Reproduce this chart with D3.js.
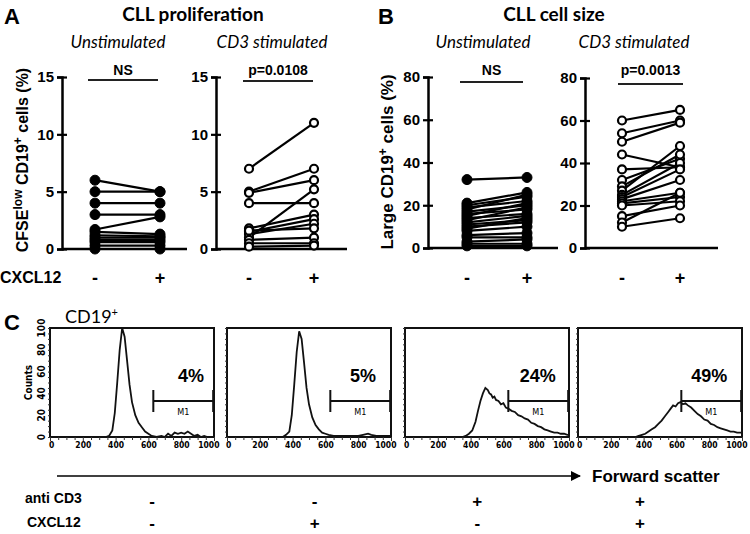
<!DOCTYPE html>
<html><head><meta charset="utf-8">
<script src="https://cdn.jsdelivr.net/npm/d3@7"></script>
<style>
body{margin:0;background:#fff;}
svg{display:block;}
text{fill:#000;}
</style></head>
<body>
<svg id="chart" width="750" height="534"></svg>
<script>
// ---------------- DATA ----------------
const categories = ["-", "+"];
// Panel A: CFSE low CD19+ cells (%), pairs [-CXCL12, +CXCL12]
const aUnstim = [[6,5],[5,5],[4,4],[3,3],[1.7,2.8],[1.5,1.3],[1.2,1.1],[1.0,1.0],[0.8,0.8],[0.6,0.6],[0.3,0.3],[0,0]];
const aCD3 = [[7,11],[5,7],[4.9,6],[4,4],[1,5.2],[1.8,3],[1.5,2.6],[1.3,2.2],[1.6,1.8],[0.8,1],[0.5,0.5],[0.2,0.3]];
// Panel B: Large CD19+ cells (%)
const bUnstim = [[32,33],[21,26],[20,24],[19,22],[18,25],[17,20],[16,18],[15,21],[14,16],[13,19],[12,15],[11,13],[10,12],[9,14],[8,10],[6,7],[5,5],[3,4],[2,2],[1,1]];
const bCD3 = [[60,65],[54,60],[50,59],[44,38],[37,38],[32,42],[29,44],[27,48],[25,40],[24,37],[23,32],[22,26],[21,24],[20,22],[15,20],[12,26],[10,14]];
const aTicks = [0,5,10,15];
const bTicks = [0,20,40,60,80];
const pLabels = ["NS","p=0.0108","NS","p=0.0013"];
// Panel C: FSC histograms [channel, counts]
const fscTicks = [0,200,400,600,800,1000];
const countTicks = [0,20,40,60,80,100];
const hist1 = [[0,0],[340,0],[360,1],[380,6],[395,22],[410,50],[425,80],[440,100],[455,92],[470,70],[485,48],[500,32],[520,20],[540,13],[560,9],[580,5],[600,3],[620,1],[650,0],[680,1],[700,0],[720,3],[740,1],[760,4],[780,3],[800,4],[820,3],[840,5],[860,3],[880,1],[900,2],[920,0],[940,1],[960,0],[1000,0]];
const hist2 = [[0,0],[340,0],[360,2],[380,5],[395,20],[410,48],[425,78],[440,97],[455,90],[470,68],[485,45],[500,30],[520,18],[540,11],[560,7],[580,4],[600,3],[620,2],[650,1],[700,1],[750,1],[800,1],[830,2],[860,3],[880,2],[910,1],[950,1],[1000,1]];
const hist3 = [[0,0],[350,0],[370,1],[390,3],[410,6],[430,14],[445,24],[460,33],[475,40],[490,45],[505,43],[515,40],[525,39],[535,36],[545,37],[555,34],[570,33],[585,30],[600,31],[615,27],[630,26],[650,24],[670,23],[690,20],[710,19],[730,17],[750,16],[770,13],[790,12],[810,10],[830,9],[850,7],[870,6],[890,5],[910,4],[930,4],[950,3],[970,3],[990,2],[1000,2]];
const hist4 = [[0,0],[350,0],[370,1],[390,2],[410,3],[430,5],[450,7],[470,9],[490,12],[510,15],[530,19],[550,23],[565,26],[580,29],[595,28],[610,31],[625,32],[640,30],[655,31],[670,29],[690,27],[710,24],[730,21],[750,19],[770,16],[790,15],[810,12],[830,11],[850,9],[870,8],[890,7],[910,6],[930,5],[950,5],[970,4],[990,4],[1000,4]];
const histograms = [hist1, hist2, hist3, hist4];
const pctLabels = ["4%","5%","24%","49%"];
const markerRange = [630, 995];
const antiCD3Row = ["-","-","+","+"];
const cxcl12Row = ["-","+","-","+"];

// ---------------- DRAW ----------------
const svg = d3.select("#chart");
const ARIAL = "Liberation Sans, Arial, sans-serif";
const LATO = "Lato, sans-serif";

[["A",4,24],["B",378,24],["C",4,330]].forEach(([t,x,y]) =>
  svg.append("text").attr("x",x).attr("y",y).attr("font-family",ARIAL)
    .attr("font-weight","bold").attr("font-size",22).text(t));

svg.append("text").attr("x",193).attr("y",21).attr("text-anchor","middle")
  .attr("font-family",LATO).attr("font-weight","bold").attr("font-size",19).text("CLL proliferation");
svg.append("text").attr("x",554).attr("y",21).attr("text-anchor","middle")
  .attr("font-family",LATO).attr("font-weight","bold").attr("font-size",19).text("CLL cell size");

function scatterPanel(cfg){
  const g = svg.append("g");
  const y = d3.scaleLinear().domain([0, cfg.max]).range([cfg.yBottom, cfg.yTop]);
  const x = d3.scalePoint().domain(categories).range([cfg.xm, cfg.xp]);
  g.append("text").attr("x",cfg.subX).attr("y",48).attr("text-anchor","middle")
    .attr("font-family",LATO).attr("font-style","italic").attr("font-size",17).text(cfg.sub);
  const ax = d3.axisLeft(y).tickValues(cfg.ticks).tickSize(5).tickPadding(3);
  const ag = g.append("g").attr("transform",`translate(${cfg.axisX},0)`).call(ax);
  ag.select(".domain").attr("stroke","#000").attr("stroke-width",2.5);
  ag.selectAll(".tick line").attr("x1",-5).attr("x2",5).attr("stroke","#000").attr("stroke-width",2.2);
  ag.selectAll(".tick text").attr("font-family",ARIAL).attr("font-weight","bold").attr("font-size",15).attr("fill","#000");
  g.append("line").attr("x1",cfg.axisX).attr("x2",cfg.xEnd).attr("y1",y(0)).attr("y2",y(0))
    .attr("stroke","#000").attr("stroke-width",2.5);
  categories.forEach(c => g.append("text").attr("x",x(c)).attr("y",284).attr("text-anchor","middle")
    .attr("font-family",ARIAL).attr("font-weight","bold").attr("font-size",18).text(c));
  g.append("text").attr("x",(cfg.sigX1+cfg.sigX2)/2).attr("y",75).attr("text-anchor","middle")
    .attr("font-family",ARIAL).attr("font-weight","bold").attr("font-size",14).text(cfg.sig);
  g.append("line").attr("x1",cfg.sigX1).attr("x2",cfg.sigX2).attr("y1",cfg.sigY).attr("y2",cfg.sigY)
    .attr("stroke","#222").attr("stroke-width",2);
  g.selectAll("line.pair").data(cfg.data).enter().append("line").attr("class","pair")
    .attr("x1",x("-")).attr("x2",x("+")).attr("y1",d=>y(d[0])).attr("y2",d=>y(d[1]))
    .attr("stroke","#000").attr("stroke-width",2.2);
  const pts = [];
  cfg.data.forEach(d => { pts.push(["-",d[0]]); pts.push(["+",d[1]]); });
  g.selectAll("circle.pt").data(pts).enter().append("circle").attr("class","pt")
    .attr("cx",d=>x(d[0])).attr("cy",d=>y(d[1]))
    .attr("r", cfg.filled ? 5 : 4)
    .attr("fill", cfg.filled ? "#000" : "#fff")
    .attr("stroke","#000").attr("stroke-width", cfg.filled ? 1 : 2.2);
}

scatterPanel({data:aUnstim, max:15, ticks:aTicks, yTop:77, yBottom:249, axisX:62, xm:95, xp:160, xEnd:187,
  sub:"Unstimulated", subX:118, sig:pLabels[0], sigX1:88, sigX2:158, sigY:80, filled:true});
scatterPanel({data:aCD3, max:15, ticks:aTicks, yTop:77, yBottom:249, axisX:216, xm:249, xp:314, xEnd:347,
  sub:"CD3 stimulated", subX:272, sig:pLabels[1], sigX1:243, sigX2:313, sigY:81, filled:false});
scatterPanel({data:bUnstim, max:80, ticks:bTicks, yTop:77, yBottom:248, axisX:428, xm:467, xp:527, xEnd:558,
  sub:"Unstimulated", subX:483, sig:pLabels[2], sigX1:460, sigX2:523, sigY:82, filled:true});
scatterPanel({data:bCD3, max:80, ticks:bTicks, yTop:78, yBottom:248, axisX:585, xm:622, xp:680, xEnd:718,
  sub:"CD3 stimulated", subX:634, sig:pLabels[3], sigX1:618, sigX2:683, sigY:84, filled:false});

const ya = svg.append("text").attr("transform","translate(28,160) rotate(-90)").attr("text-anchor","middle")
  .attr("font-family",ARIAL).attr("font-weight","bold").attr("font-size",16);
ya.append("tspan").text("CFSE");
ya.append("tspan").attr("font-size",12).attr("dy",-6).text("low");
ya.append("tspan").attr("dy",6).text(" CD19");
ya.append("tspan").attr("font-size",12).attr("dy",-6).text("+");
ya.append("tspan").attr("dy",6).text(" cells (%)");
const yb = svg.append("text").attr("transform","translate(393,162) rotate(-90)").attr("text-anchor","middle")
  .attr("font-family",ARIAL).attr("font-weight","bold").attr("font-size",17);
yb.append("tspan").text("Large CD19");
yb.append("tspan").attr("font-size",12).attr("dy",-6).text("+");
yb.append("tspan").attr("dy",6).text(" cells (%)");

svg.append("text").attr("x",0).attr("y",283).attr("font-family",ARIAL).attr("font-weight","bold")
  .attr("font-size",16).text("CXCL12");

// ---------------- Panel C ----------------
const boxLefts = [50, 227, 405, 578];
const pctX = [860, 830, 810, 800];
const boxW = 164, boxTop = 328, boxBottom = 437;
const COND = "DejaVu Sans Condensed, Liberation Sans Narrow, sans-serif";
const cy = d3.scaleLinear().domain([0,100]).range([boxBottom, boxTop]);

svg.append("text").attr("x",65).attr("y",323).attr("font-family",LATO).attr("font-size",18).text("CD19")
  .append("tspan").attr("font-size",11).attr("dy",-7).text("+");

boxLefts.forEach((bx, i) => {
  const g = svg.append("g");
  const cx = d3.scaleLinear().domain([0,1000]).range([bx, bx+boxW]);
  const line = d3.line().x(d=>cx(d[0])).y(d=>cy(d[1]));
  g.append("path").attr("d", line(histograms[i])).attr("fill","none").attr("stroke","#111").attr("stroke-width",1.8);
  g.append("rect").attr("x",bx).attr("y",boxTop).attr("width",boxW).attr("height",boxBottom-boxTop)
    .attr("fill","none").attr("stroke","#111").attr("stroke-width",2);
  const xa = d3.axisBottom(cx).tickValues(d3.range(0,1001,50)).tickSize(3).tickFormat(d => fscTicks.includes(d) ? d : "");
  const xg = g.append("g").attr("transform",`translate(0,${boxBottom})`).call(xa);
  xg.select(".domain").remove();
  xg.selectAll(".tick line").attr("stroke","#333").attr("stroke-width",1).attr("y2", d => d % 200 === 0 ? 4 : 3);
  xg.selectAll(".tick text").attr("font-family",COND).attr("font-weight","bold").attr("font-size",8.5).attr("fill","#000").attr("dy","0.6em")
    .attr("text-anchor", d => d === 1000 ? "end" : (d === 0 ? "start" : "middle"))
    .attr("dx", d => d === 1000 ? 5 : (d === 0 ? -1.5 : 0));
  const ya2 = d3.axisLeft(cy).tickValues(d3.range(0,101,5)).tickSize(2).tickFormat("");
  const yg = g.append("g").attr("transform",`translate(${bx},0)`).call(ya2);
  yg.select(".domain").remove();
  yg.selectAll(".tick line").attr("stroke","#333");
  if (i === 0) {
    countTicks.forEach(t => {
      g.append("text").attr("transform",`translate(${bx-5},${cy(t)}) rotate(-90)`).attr("text-anchor","middle")
        .attr("font-family",COND).attr("font-weight","bold").attr("font-size",10).text(t);
    });
    g.append("text").attr("transform",`translate(${bx-18},${cy(50)}) rotate(-90)`).attr("text-anchor","middle")
      .attr("font-family",COND).attr("font-weight","bold").attr("font-size",10).text("Counts");
  }
  const my = 401;
  g.append("line").attr("x1",cx(markerRange[0])).attr("x2",cx(markerRange[1])).attr("y1",my).attr("y2",my).attr("stroke","#111").attr("stroke-width",2);
  markerRange.forEach(m => g.append("line").attr("x1",cx(m)).attr("x2",cx(m)).attr("y1",my-11).attr("y2",my+11).attr("stroke","#111").attr("stroke-width",2));
  g.append("text").attr("x",cx((markerRange[0]+markerRange[1])/2)).attr("y",415).attr("text-anchor","middle")
    .attr("font-family",COND).attr("font-size",9).text("M1");
  g.append("text").attr("x",cx(pctX[i])).attr("y",382).attr("text-anchor","middle")
    .attr("font-family",ARIAL).attr("font-weight","bold").attr("font-size",18).text(pctLabels[i]);
});

svg.append("defs").append("marker").attr("id","ah").attr("viewBox","0 0 10 10").attr("refX",9).attr("refY",5)
  .attr("markerWidth",10).attr("markerHeight",10).attr("markerUnits","userSpaceOnUse").attr("orient","auto")
  .append("path").attr("d","M0,0 L10,5 L0,10 Z").attr("fill","#000");
svg.append("line").attr("x1",57).attr("x2",580).attr("y1",476).attr("y2",476).attr("stroke","#000").attr("stroke-width",1.6).attr("marker-end","url(#ah)");
svg.append("text").attr("x",592).attr("y",482).attr("font-family",ARIAL).attr("font-weight","bold").attr("font-size",17).text("Forward scatter");

const signX = d3.scalePoint().domain(d3.range(4)).range([152, 640]);
svg.append("text").attr("x",25).attr("y",503).attr("font-family",ARIAL).attr("font-weight","bold").attr("font-size",14).text("anti CD3");
svg.append("text").attr("x",27).attr("y",527).attr("font-family",ARIAL).attr("font-weight","bold").attr("font-size",14).text("CXCL12");
antiCD3Row.forEach((s,i) => svg.append("text").attr("x",signX(i)).attr("y",507).attr("text-anchor","middle")
  .attr("font-family",ARIAL).attr("font-weight","bold").attr("font-size",17).text(s));
cxcl12Row.forEach((s,i) => svg.append("text").attr("x",signX(i)).attr("y",529).attr("text-anchor","middle")
  .attr("font-family",ARIAL).attr("font-weight","bold").attr("font-size",17).text(s));
</script>
</body></html>
